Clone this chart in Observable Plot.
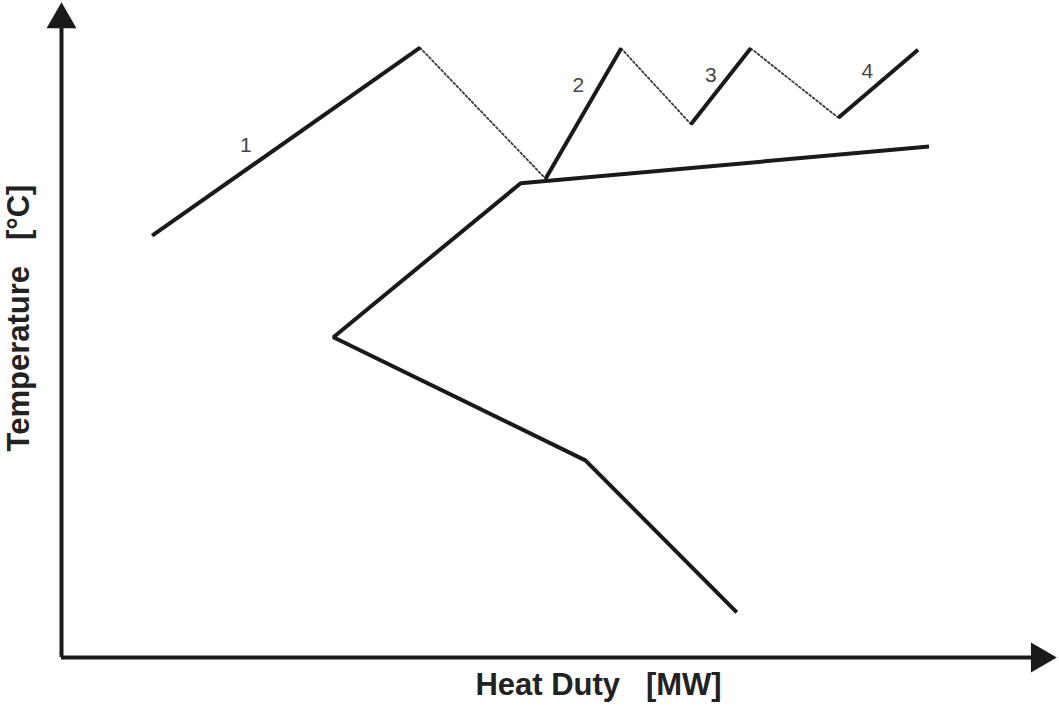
<!DOCTYPE html>
<html>
<head>
<meta charset="utf-8">
<script src="https://cdn.jsdelivr.net/npm/d3@7"></script>
<script src="https://cdn.jsdelivr.net/npm/@observablehq/plot@0.6"></script>
<style>
  html, body { margin: 0; padding: 0; background: #fff; }
  svg { display: block; }
</style>
</head>
<body>
<div id="chart"></div>
<script>
// Hot-side stream segments (solid) — heat duty [%] / temperature [%]
const segment1 = [{x: 9.1, y: 64.4}, {x: 36.0, y: 93.1}];
const segment2 = [{x: 48.6, y: 73.1}, {x: 56.2, y: 93.0}];
const segment3 = [{x: 63.2, y: 81.4}, {x: 69.2, y: 93.0}];
const segment4 = [{x: 78.0, y: 82.4}, {x: 86.0, y: 92.8}];
// dotted connectors between segments
const connector1 = [{x: 36.0, y: 93.1}, {x: 48.6, y: 73.1}];
const connector2 = [{x: 56.2, y: 93.0}, {x: 63.2, y: 81.4}];
const connector3 = [{x: 69.2, y: 93.0}, {x: 78.0, y: 82.4}];
// Lower curve
const lowerCurve = [
  {x: 87.1, y: 78.0},
  {x: 46.1, y: 72.4},
  {x: 27.3, y: 48.9},
  {x: 52.6, y: 30.1},
  {x: 67.8, y: 6.9}
];
// segment labels
const segmentLabels = [
  {x: 18.5, y: 78.2, label: "1"},
  {x: 51.9, y: 87.3, label: "2"},
  {x: 65.2, y: 88.9, label: "3"},
  {x: 80.9, y: 89.5, label: "4"}
];
// axis extents
const xAxisEnd = 98.2;
const yAxisEnd = 97.4;
const xLabel = "Heat Duty\u00a0\u00a0\u00a0[MW]";
const yLabel = "Temperature\u00a0\u00a0\u00a0[°C]";

const ink = "#1a1a1a";
const solid = {x: "x", y: "y", stroke: ink, strokeWidth: 4, strokeLinecap: "butt", strokeLinejoin: "miter"};
const dotted = {x: "x", y: "y", stroke: "#3a3a3a", strokeWidth: 1.8, strokeDasharray: "2,2.4"};

const chart = Plot.plot({
  width: 1059,
  height: 717,
  marginLeft: 61,
  marginRight: 2,
  marginTop: 2,
  marginBottom: 60,
  style: {fontFamily: "'Liberation Sans', Arial, sans-serif", background: "#fff"},
  x: {domain: [0, 100], axis: null},
  y: {domain: [0, 100], axis: null},
  marks: [
    // axes
    Plot.ruleY([0], {x1: 0, x2: xAxisEnd, stroke: ink, strokeWidth: 4}),
    Plot.ruleX([0], {y1: 0, y2: yAxisEnd, stroke: ink, strokeWidth: 4}),
    Plot.dot([{x: 0, y: yAxisEnd}], {x: "x", y: "y", symbol: "triangle", r: 11.1, fill: ink, stroke: "none"}),
    Plot.dot([{x: xAxisEnd, y: 0}], {x: "x", y: "y", symbol: "triangle", r: 11.1, fill: ink, stroke: "none", rotate: 90}),
    // connectors
    Plot.line(connector1, dotted),
    Plot.line(connector2, dotted),
    Plot.line(connector3, dotted),
    // curves
    Plot.line(lowerCurve, solid),
    Plot.line(segment1, solid),
    Plot.line(segment2, solid),
    Plot.line(segment3, solid),
    Plot.line(segment4, solid),
    Plot.text(segmentLabels, {x: "x", y: "y", text: "label", fontSize: 21, fill: "#444"}),
    // axis titles
    Plot.text([xLabel], {frameAnchor: "bottom", textAnchor: "middle", dx: 39, dy: 37, fontSize: 31, fontWeight: "bold", fill: "#222"}),
    Plot.text([yLabel], {frameAnchor: "left", textAnchor: "middle", dx: -42, dy: -12, rotate: -90, fontSize: 31, fontWeight: "bold", fill: "#222"})
  ]
});
document.getElementById("chart").appendChild(chart);
</script>
</body>
</html>
